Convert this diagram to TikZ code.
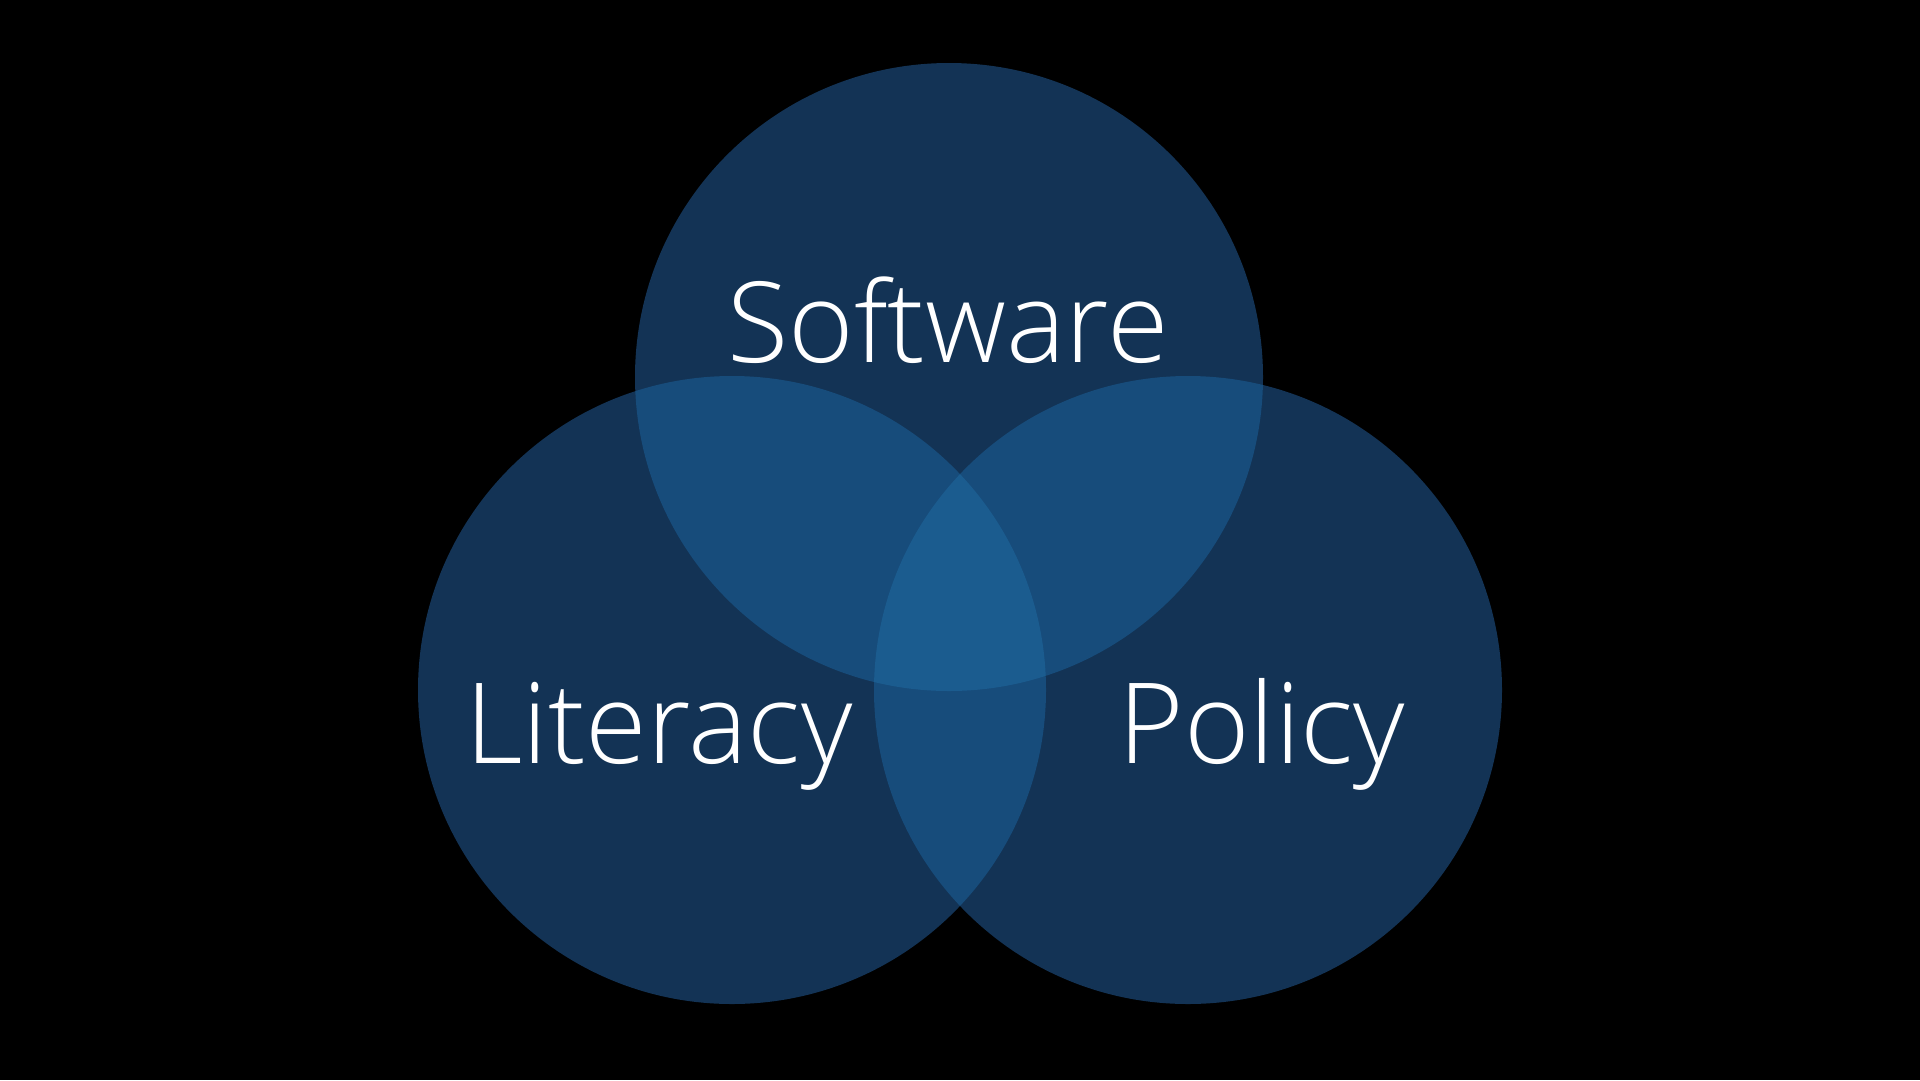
\documentclass[tikz,border=0pt]{standalone}
\usepackage{fontspec}
\setmainfont{Open Sans Light}
\definecolor{vone}{RGB}{19,51,85}
\definecolor{vtwo}{RGB}{23,76,123}
\definecolor{vthree}{RGB}{27,92,143}
\begin{document}
\begin{tikzpicture}[x=1pt,y=-1pt,
  lbl/.style={text=white,font=\fontsize{112}{134}\selectfont,inner sep=0pt,anchor=base}]
  \fill[black] (0,0) rectangle (1920,1080);
  \useasboundingbox (0,0) rectangle (1920,1080);
  % circle centres and common radius
  \def\rad{314}
  \coordinate (ctop) at (949,377);
  \coordinate (cleft) at (732,690);
  \coordinate (cright) at (1188,690);
  % single-set regions
  \fill[vone] (ctop) circle[radius=\rad];
  \fill[vone] (cleft) circle[radius=\rad];
  \fill[vone] (cright) circle[radius=\rad];
  % pairwise overlaps
  \begin{scope}
    \clip (ctop) circle[radius=\rad];
    \fill[vtwo] (cleft) circle[radius=\rad];
    \fill[vtwo] (cright) circle[radius=\rad];
  \end{scope}
  \begin{scope}
    \clip (cleft) circle[radius=\rad];
    \fill[vtwo] (cright) circle[radius=\rad];
  \end{scope}
  % centre where all three meet
  \begin{scope}
    \clip (ctop) circle[radius=\rad];
    \clip (cleft) circle[radius=\rad];
    \fill[vthree] (cright) circle[radius=\rad];
  \end{scope}
  \node[lbl] (software) at (948,362) {Software};
  \node[lbl] (literacy) at (659,763) {Literacy};
  \node[lbl] (policy) at (1262,763) {Policy};
\end{tikzpicture}
\end{document}
